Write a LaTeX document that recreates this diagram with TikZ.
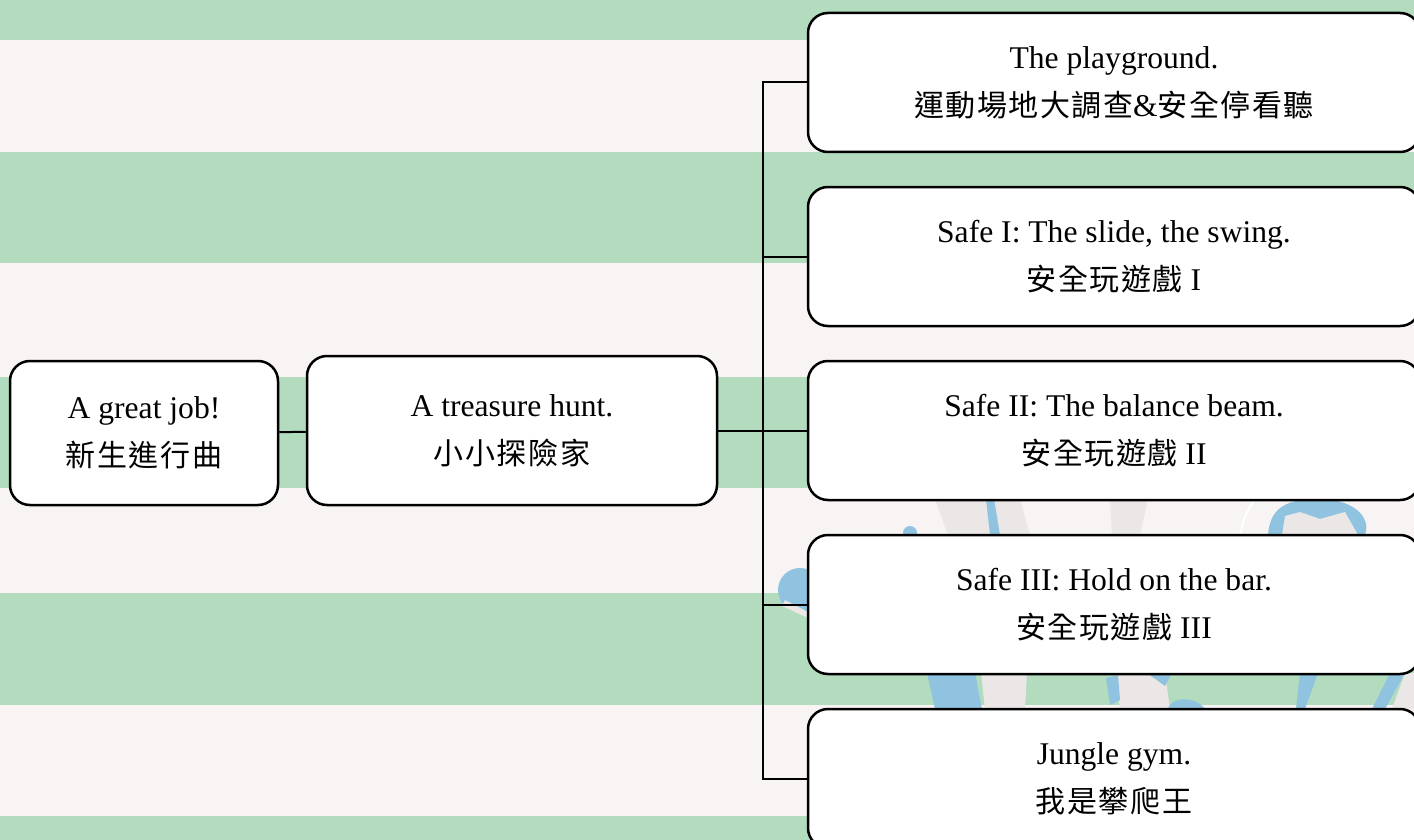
\documentclass[tikz,border=0pt]{standalone}
\usepackage{fontspec}
\setmainfont{Liberation Serif}
\newfontfamily\cjk[Scale=0.95,LetterSpace=5]{Noto Sans CJK TC}
\usepackage{tikz}
\usetikzlibrary{positioning}
\definecolor{bgGreen}{HTML}{B3DCBF}
\definecolor{bgPale}{HTML}{F8F4F3}
\definecolor{kidBlue}{HTML}{8FC3DF}
\definecolor{kidGrey}{HTML}{EBE7E6}

\begin{document}
\begin{tikzpicture}[x=0.5pt,y=-0.5pt,
      font=\fontsize{15.8}{24}\selectfont,
      box/.style={draw,fill=white,rounded corners=10pt,line width=1.25pt,align=center,inner sep=0pt},
      root/.style={box,minimum width=134pt,minimum height=72pt},
      mid/.style={box,minimum width=205pt,minimum height=74.5pt},
      leaf/.style={box,minimum width=306pt,minimum height=69.5pt},
      link/.style={line width=1pt}]
    \useasboundingbox (0,0) rectangle (1414,840);
    \clip (0,0) rectangle (1414,840);
    \fill[bgPale] (0,0) rectangle (1414,840);
    \foreach \ya/\yb in {0/40,152/263,377/488,593/705,816/840}
      \fill[bgGreen] (0,\ya) rectangle (1414,\yb);

    % children in the backdrop, showing between the boxes
    \fill[kidGrey] (935,499) -- (1020,499) -- (1030,535) -- (948,535) -- cycle;
    \fill[kidBlue] (986,499) -- (994,499) -- (1000,535) -- (990,535) -- cycle;
    \fill[kidBlue] (910,533) circle (7);
    \fill[kidGrey] (1110,499) -- (1148,499) -- (1140,535) -- (1112,535) -- cycle;
    \draw[white,line width=1pt] (1240,535) .. controls (1245,515) .. (1255,499);
    \fill[kidBlue] (1268,535) .. controls (1270,505) and (1290,499) .. (1320,499)
                   .. controls (1350,499) and (1372,515) .. (1365,535) -- cycle;
    \fill[kidGrey] (1282,535) -- (1285,516) -- (1300,512) -- (1320,519) -- (1345,512) -- (1358,535) -- cycle;
    \fill[kidBlue] (800,590) circle (22);
    \fill[kidGrey] (785,600) -- (808,612) -- (808,618) -- (782,606) -- cycle;
    \fill[kidBlue] (927,673) -- (975,673) -- (982,709) -- (935,709) -- cycle;
    \fill[kidGrey] (981,673) -- (1027,673) -- (1025,709) -- (985,709) -- cycle;
    \fill[kidGrey] (1115,673) -- (1165,673) -- (1170,709) -- (1120,709) -- cycle;
    \fill[kidBlue] (1106,678) -- (1118,675) -- (1120,700) -- (1110,705) -- cycle;
    \fill[kidBlue] (1147,673) -- (1172,673) -- (1165,686) -- cycle;
    \fill[kidBlue] (1168,709) .. controls (1170,697) and (1195,695) .. (1205,709) -- cycle;
    \fill[kidBlue] (1300,673) -- (1318,673) -- (1305,709) -- (1296,709) -- cycle;
    \fill[kidBlue] (1390,673) -- (1405,673) -- (1385,709) -- (1372,709) -- cycle;
    \fill[kidGrey] (1405,673) -- (1414,673) -- (1414,709) -- (1392,709) -- cycle;

    \node[root] (job)  at (144,433)   {A great job!\\{\cjk 新生進行曲}};
    \node[mid]  (hunt) at (512,430.5) {A treasure hunt.\\{\cjk 小小探險家}};
    \node[leaf] (play)  at (1114,82.5)  {The playground.\\{\cjk 運動場地大調查}\&{\cjk 安全停看聽}};
    \node[leaf] (slide) at (1114,256.5) {Safe I: The slide, the swing.\\{\cjk 安全玩遊戲} I};
    \node[leaf] (beam)  at (1114,430.5) {Safe II: The balance beam.\\{\cjk 安全玩遊戲} II};
    \node[leaf] (bar)   at (1114,604.5) {Safe III: Hold on the bar.\\{\cjk 安全玩遊戲} III};
    \node[leaf] (gym)   at (1114,778.5) {Jungle gym.\\{\cjk 我是攀爬王}};
    \coordinate (fork) at (763,430.5);

    \draw[link] (job) -- (hunt);
    \draw[link] (hunt) -- (fork);
    \foreach \n in {play,slide,beam,bar,gym}
      \draw[link] (fork) |- (\n.west);
  \end{tikzpicture}
\end{document}
